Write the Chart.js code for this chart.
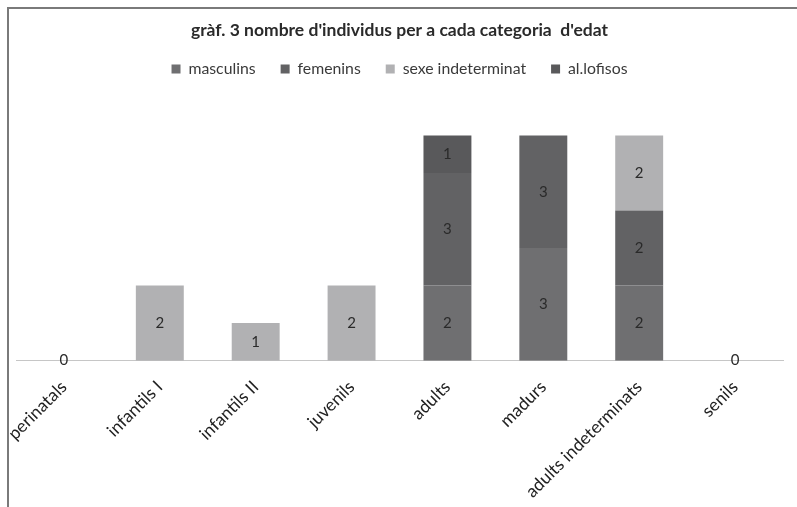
<!DOCTYPE html>
<html>
<head>
<meta charset="utf-8">
<script src="https://cdn.jsdelivr.net/npm/chart.js"></script>
<title>gràf. 3</title>
<style>
  body { margin: 0; background: #fff; }
  #frame { position: absolute; left: 7px; top: 7px; width: 788px; height: 498px;
           border-top: 2px solid #7a7a7a; border-left: 2px solid #7a7a7a; }
  #frame canvas { display: block; }
</style>
</head>
<body>
<div id="frame"><canvas id="myChart" width="788" height="498"></canvas></div>

<script>
// categories d'edat
const categories = ['perinatals', 'infantils I', 'infantils II', 'juvenils', 'adults', 'madurs', 'adults indeterminats', 'senils'];
// nombre d'individus per serie
const masculins = [0, null, null, null, 2, 3, 2, 0];
const femenins = [null, null, null, null, 3, 3, 2, null];
const sexeIndeterminat = [null, 2, 1, 2, null, null, 2, null];
const allofisos = [null, null, null, null, 1, null, null, null];

// etiquetes de valor dins de cada segment
const valueLabels = {
  id: 'valueLabels',
  afterDatasetsDraw(chart) {
    const ctx = chart.ctx;
    ctx.save();
    ctx.font = '15px Lato';
    ctx.fillStyle = '#2a2a2a';
    ctx.textAlign = 'center';
    ctx.textBaseline = 'middle';
    chart.data.datasets.forEach((ds, i) => {
      const meta = chart.getDatasetMeta(i);
      meta.data.forEach((bar, j) => {
        const v = ds.data[j];
        if (v === null) return;
        const y = v === 0 ? bar.y : (bar.y + bar.base) / 2;
        ctx.fillText(v, bar.x, y);
      });
    });
    ctx.restore();
  }
};

const ctx = document.getElementById('myChart');
new Chart(ctx, {
  type: 'bar',
  data: {
    labels: categories,
    datasets: [
      { label: 'masculins', data: masculins, backgroundColor: '#6f6f71' },
      { label: 'femenins', data: femenins, backgroundColor: '#626264' },
      { label: 'sexe indeterminat', data: sexeIndeterminat, backgroundColor: '#b1b1b3' },
      { label: 'al.lofisos', data: allofisos, backgroundColor: '#59595b' }
    ]
  },
  options: {
    responsive: false,
    animation: false,
    devicePixelRatio: 1,
    layout: { padding: { left: 7, right: 14, top: 4, bottom: -3 } },
    datasets: { bar: { barPercentage: 0.5, categoryPercentage: 1, borderWidth: 0 } },
    scales: {
      x: {
        stacked: true,
        grid: { display: false },
        border: { color: '#c6c6c6', width: 1 },
        ticks: { minRotation: 45, maxRotation: 45, color: '#222', font: { family: 'Lato', size: 17.5 }, padding: 8 },
        afterFit: (scale) => { scale.paddingLeft = 0; scale.paddingRight = 0; }
      },
      y: { stacked: true, display: false, min: 0, max: 7.3 }
    },
    plugins: {
      title: {
        display: true,
        text: "gràf. 3 nombre d'individus per a cada categoria  d'edat",
        color: '#2a2a2a',
        font: { family: 'Lato', size: 17.5, weight: 'bold' },
        padding: { top: 7, bottom: -5 }
      },
      legend: {
        position: 'top',
        labels: { boxWidth: 9, boxHeight: 9, color: '#3a3a3a', font: { family: 'Lato', size: 15.8 }, padding: 25 }
      },
      tooltip: { enabled: false }
    }
  },
  plugins: [valueLabels]
});
</script>
</body>
</html>
